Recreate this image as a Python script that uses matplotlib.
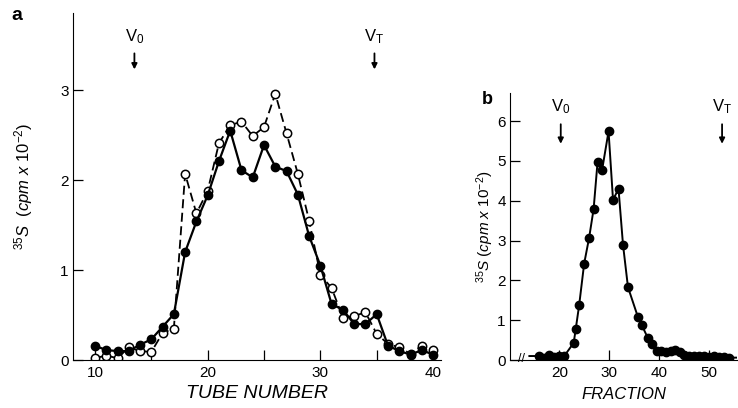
import matplotlib.pyplot as plt
import numpy as np

plt.rcParams['font.family'] = ['Liberation Sans', 'DejaVu Sans']
plt.rcParams['mathtext.fontset'] = 'custom'
plt.rcParams['mathtext.it'] = 'Liberation Sans:italic'
plt.rcParams['mathtext.rm'] = 'Liberation Sans'
plt.rcParams['mathtext.default'] = 'it'

# panel a: tube number vs 35S
tube = list(range(10, 41))
filled_a = [0.16, 0.11, 0.10, 0.10, 0.17, 0.23, 0.37, 0.51, 1.20, 1.54,
            1.83, 2.21, 2.55, 2.11, 2.03, 2.39, 2.15, 2.10, 1.84, 1.38,
            1.05, 0.62, 0.56, 0.40, 0.40, 0.51, 0.16, 0.10, 0.06, 0.11, 0.06]
open_a = [0.02, 0.05, 0.02, 0.14, 0.10, 0.09, 0.30, 0.35, 2.07, 1.63,
          1.88, 2.41, 2.61, 2.65, 2.49, 2.59, 2.96, 2.52, 2.07, 1.55,
          0.95, 0.80, 0.47, 0.49, 0.53, 0.29, 0.18, 0.14, 0.07, 0.16, 0.11]

# panel b: fraction vs 35S
frac = [14, 16, 17, 18, 19, 20, 21, 22.9, 23.3, 24.0, 25.0, 26.0, 26.9, 27.7,
        28.6, 29.9, 30.8, 31.9, 32.8, 33.8, 35.8, 36.6, 37.8, 38.6, 39.7,
        40.5, 41.5, 42.5, 43.3, 44.2, 45, 46, 47, 48, 49, 50, 51, 52, 53, 54, 55.7]
vals_b = [0.1, 0.1, 0.05, 0.13, 0.08, 0.1, 0.1, 0.43, 0.77, 1.38, 2.42, 3.07,
          3.79, 4.98, 4.77, 5.74, 4.02, 4.3, 2.9, 1.83, 1.08, 0.87, 0.55, 0.4,
          0.23, 0.22, 0.2, 0.22, 0.24, 0.2, 0.12, 0.1, 0.1, 0.09, 0.1, 0.08,
          0.09, 0.08, 0.07, 0.06, 0.06]

fig = plt.figure(figsize=(7.38, 4.08), dpi=100)

# ---- panel a
ax = fig.add_axes([0.0989, 0.1176, 0.4986, 0.851])
ax.plot(tube, open_a, color='black', lw=1.3, dashes=(5, 2.5), marker='o',
        ms=6, mfc='white', mec='black', mew=1.1, zorder=2)
ax.plot(tube, filled_a, color='black', lw=1.6, marker='o', ms=6,
        mfc='black', mec='black', zorder=3)
ax.set_xlim(8.05, 40.7)
ax.set_ylim(0, 3.86)
ax.set_xticks([10, 20, 30, 40])
ax.set_xticks([15, 25, 35], minor=True)
ax.set_yticks([0, 1, 2, 3])
ax.tick_params(axis='both', which='both', direction='in', length=7,
               width=0.9, labelsize=11, pad=4)
ax.tick_params(axis='y', pad=3)
for s in ['top', 'right']:
    ax.spines[s].set_visible(False)
ax.set_xlabel('TUBE NUMBER', fontsize=14, fontstyle='italic', labelpad=4)
ax.set_ylabel(r'$^{35}S\ \ (cpm\ x\ 10^{-2})$', fontsize=12, labelpad=18)

ax.annotate('', xy=(13.5, 3.2), xytext=(13.5, 3.44),
            arrowprops=dict(arrowstyle='-|>', color='black', lw=1.3, mutation_scale=8))
ax.text(13.5, 3.6, r'$\mathrm{V_0}$', ha='center', va='center', fontsize=12)
ax.annotate('', xy=(34.8, 3.2), xytext=(34.8, 3.44),
            arrowprops=dict(arrowstyle='-|>', color='black', lw=1.3, mutation_scale=8))
ax.text(34.8, 3.6, r'$\mathrm{V_T}$', ha='center', va='center', fontsize=12)
fig.text(0.023, 0.963, 'a', fontsize=14, fontweight='bold', ha='center', va='center')

# ---- panel b
bx = fig.add_axes([0.691, 0.1176, 0.308, 0.654])
bx.plot(frac, vals_b, color='black', lw=1.4, marker='o', ms=6,
        mfc='black', mec='black', markevery=list(range(1, len(frac) - 1)))
bx.set_xlim(10.1, 55.75)
bx.set_ylim(0, 6.7)
bx.set_xticks([20, 30, 40, 50])
bx.set_yticks([0, 1, 2, 3, 4, 5, 6])
bx.tick_params(axis='both', direction='in', length=7, width=0.9,
               labelsize=11, pad=4)
bx.tick_params(axis='y', pad=3)
for s in ['top', 'right']:
    bx.spines[s].set_visible(False)
bx.set_xlabel('FRACTION', fontsize=12, fontstyle='italic', labelpad=5)
bx.set_ylabel(r'$^{35}S\ (cpm\ x\ 10^{-2})$', fontsize=11, labelpad=1)
bx.text(12.4, 0.02, '//', ha='center', va='center', fontsize=9)

bx.annotate('', xy=(20.3, 5.36), xytext=(20.3, 5.99),
            arrowprops=dict(arrowstyle='-|>', color='black', lw=1.3, mutation_scale=8))
bx.text(20.3, 6.35, r'$\mathrm{V_0}$', ha='center', va='center', fontsize=12)
bx.annotate('', xy=(52.7, 5.36), xytext=(52.7, 5.99),
            arrowprops=dict(arrowstyle='-|>', color='black', lw=1.3, mutation_scale=8))
bx.text(52.7, 6.35, r'$\mathrm{V_T}$', ha='center', va='center', fontsize=12)
fig.text(0.66, 0.755, 'b', fontsize=13, fontweight='bold', ha='center', va='center')

fig.savefig('out.png', dpi=100)
